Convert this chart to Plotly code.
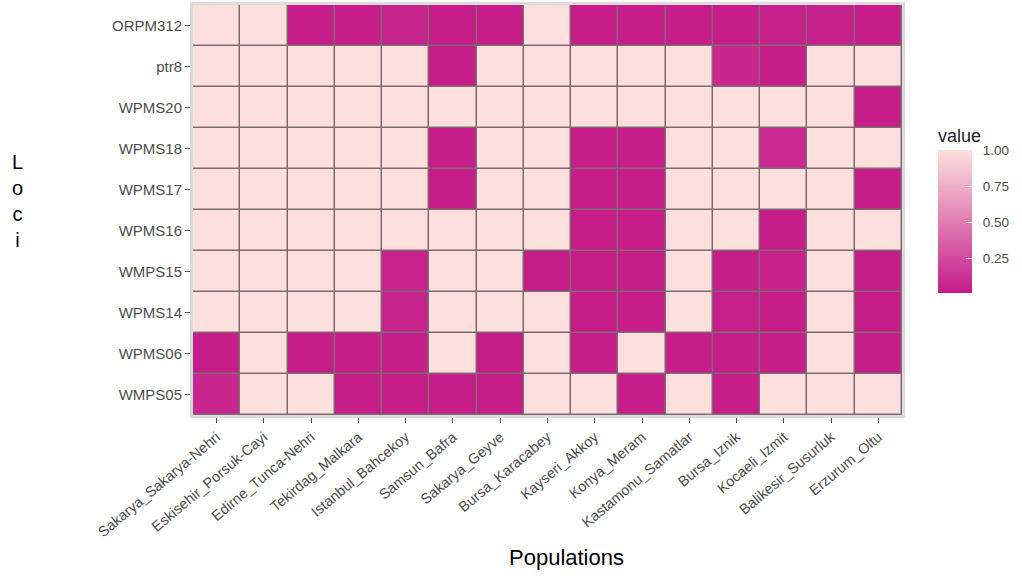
import plotly.graph_objects as go

populations = ["Sakarya_Sakarya-Nehri", "Eskisehir_Porsuk-Cayi", "Edirne_Tunca-Nehri",
               "Tekirdag_Malkara", "Istanbul_Bahcekoy", "Samsun_Bafra", "Sakarya_Geyve",
               "Bursa_Karacabey", "Kayseri_Akkoy", "Konya_Meram", "Kastamonu_Samatlar",
               "Bursa_Iznik", "Kocaeli_Izmit", "Balikesir_Susurluk", "Erzurum_Oltu"]
loci = ["ORPM312", "ptr8", "WPMS20", "WPMS18", "WPMS17", "WPMS16",
        "WMPS15", "WPMS14", "WPMS06", "WMPS05"]

ORPM312 = [1.0, 1.0, 0.02, 0.02, 0.05, 0.02, 0.02, 1.0, 0.02, 0.02, 0.02, 0.02, 0.04, 0.035, 0.02]
ptr8    = [1.0, 1.0, 1.0, 1.0, 1.0, 0.02, 1.0, 1.0, 1.0, 1.0, 1.0, 0.06, 0.02, 1.0, 1.0]
WPMS20  = [1.0, 1.0, 1.0, 1.0, 1.0, 1.0, 1.0, 1.0, 1.0, 1.0, 1.0, 1.0, 1.0, 1.0, 0.02]
WPMS18  = [1.0, 1.0, 1.0, 1.0, 1.0, 0.02, 1.0, 1.0, 0.02, 0.02, 1.0, 1.0, 0.08, 1.0, 1.0]
WPMS17  = [1.0, 1.0, 1.0, 1.0, 1.0, 0.02, 1.0, 1.0, 0.02, 0.02, 1.0, 1.0, 1.0, 1.0, 0.02]
WPMS16  = [1.0, 1.0, 1.0, 1.0, 1.0, 1.0, 1.0, 1.0, 0.02, 0.02, 1.0, 1.0, 0.02, 1.0, 1.0]
WMPS15  = [1.0, 1.0, 1.0, 1.0, 0.045, 1.0, 1.0, 0.02, 0.02, 0.02, 1.0, 0.02, 0.04, 1.0, 0.02]
WPMS14  = [1.0, 1.0, 1.0, 1.0, 0.05, 1.0, 1.0, 1.0, 0.02, 0.02, 1.0, 0.03, 0.02, 1.0, 0.02]
WPMS06  = [0.02, 1.0, 0.02, 0.02, 0.02, 1.0, 0.02, 1.0, 0.02, 1.0, 0.02, 0.02, 0.02, 1.0, 0.02]
WMPS05  = [0.06, 1.0, 1.0, 0.02, 0.02, 0.02, 0.02, 1.0, 1.0, 0.02, 1.0, 0.02, 1.0, 1.0, 1.0]

values = [ORPM312, ptr8, WPMS20, WPMS18, WPMS17, WPMS16, WMPS15, WPMS14, WPMS06, WMPS05]
colorbar_ticks = [0.25, 0.50, 0.75, 1.00]

fig = go.Figure(go.Heatmap(
    x=populations, y=loci, z=values,
    zmin=0.01, zmax=1.0,
    colorscale=[[0, "#c51b8a"], [1, "#fde0dd"]],
    xgap=1.5, ygap=1.5,
    colorbar=dict(
        title=dict(text="value", side="top", font=dict(size=18, color="#222")),
        tickvals=colorbar_ticks,
        ticktext=["\u00a0\u00a0" + f"{v:.2f}" for v in colorbar_ticks],
        tickfont=dict(size=13.5, color="#4d4d4d"),
        ticks="inside", tickcolor="white", ticklen=6,
        thickness=34, len=0.41, lenmode="fraction",
        x=1.0508, xanchor="left", y=0.502, yanchor="middle",
        xpad=0, ypad=0,
        outlinewidth=0,
    ),
))

fig.update_layout(
    width=1022, height=579,
    margin=dict(l=193, r=120, t=5, b=164),
    paper_bgcolor="white",
    plot_bgcolor="#7d6b72",
    font=dict(family="Liberation Sans, Arial, sans-serif"),
    showlegend=False,
    annotations=[
        dict(text="Populations", x=(566 - 193) / 709, y=-(557 - 415) / 410,
             xref="paper", yref="paper", xanchor="center", yanchor="middle",
             showarrow=False, font=dict(size=22, color="black")),
        dict(text="L<br>o<br>c<br>i", x=-(193 - 17) / 709, y=1 - (201 - 5) / 410,
             xref="paper", yref="paper", xanchor="center", yanchor="middle",
             showarrow=False, font=dict(size=20, color="black")),
    ],
)

fig.update_xaxes(
    range=[-0.5, 14.5], tickangle=-40, tickfont=dict(size=14.5, color="#4d4d4d"),
    ticks="outside", ticklen=5, tickcolor="#4d4d4d", showgrid=False, automargin=False,
    showline=True, linecolor="#dcdcdc", linewidth=3, mirror=True, zeroline=False,
)
fig.update_yaxes(
    range=[9.5, -0.5], tickfont=dict(size=15, color="#4d4d4d"),
    ticks="outside", ticklen=5, tickcolor="#4d4d4d", showgrid=False, automargin=False,
    showline=True, linecolor="#dcdcdc", linewidth=3, mirror=True, zeroline=False,
)

fig.write_html("out.html", config={"displayModeBar": False},
               post_script="document.body.style.margin='0';document.body.style.padding='0';")
